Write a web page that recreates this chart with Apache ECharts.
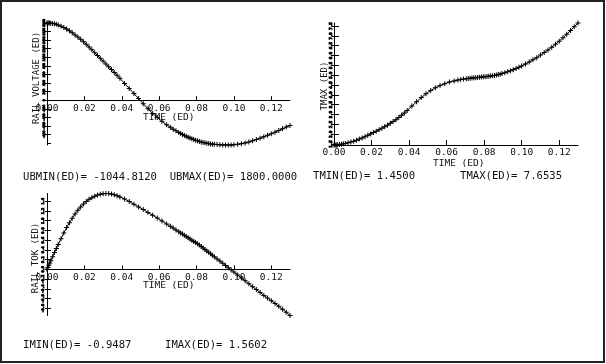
<!DOCTYPE html>
<html>
<head>
<meta charset="utf-8">
<script src="https://cdn.jsdelivr.net/npm/echarts@6/dist/echarts.min.js"></script>
<style>
html,body{margin:0;padding:0;background:#fff;}
#chart{width:606px;height:364px;}
</style>
</head>
<body>
<div id="chart"></div>
<script>
// ---- data ----
const timeValues = [
  0, 0.0005, 0.001, 0.0015, 0.002, 0.003, 0.004, 0.005, 0.006,
  0.0075, 0.009, 0.0105, 0.012, 0.0135, 0.015, 0.0165, 0.018, 0.0195, 0.021, 0.0225,
  0.024, 0.0255, 0.027, 0.0285, 0.030, 0.0315, 0.033, 0.0345, 0.036, 0.0375, 0.039,
  0.0415, 0.044, 0.0465, 0.049, 0.0515, 0.054, 0.0565, 0.059, 0.0615, 0.064, 0.066,
  0.0675, 0.069, 0.0705, 0.0715, 0.0725, 0.0735, 0.0745, 0.0755, 0.0765, 0.0775, 0.0785,
  0.0795, 0.0805, 0.0815, 0.0825, 0.0835, 0.0845, 0.0855, 0.0865, 0.0875, 0.0885, 0.0895,
  0.091, 0.0925, 0.094, 0.0955, 0.097, 0.0985, 0.100, 0.102, 0.104, 0.106, 0.108,
  0.110, 0.112, 0.114, 0.116, 0.118, 0.120, 0.122, 0.124, 0.126, 0.128, 0.130
];
const voltageValues = [
  1800, 1800, 1799, 1798, 1796, 1791, 1783, 1771, 1756,
  1727, 1695, 1658, 1617, 1571, 1523, 1473, 1420, 1365, 1302, 1238,
  1174, 1109, 1043, 977, 911, 845, 779, 713, 647, 580, 510,
  392, 274, 155, 37, -83, -200, -310, -405, -493, -575, -633,
  -675, -715, -753, -777, -800, -822, -843, -863, -882, -900, -917,
  -933, -948, -962, -974, -985, -995, -1004, -1012, -1019, -1025, -1030,
  -1036, -1040, -1043, -1044.5, -1044.812, -1043, -1038, -1028, -1014, -996, -974,
  -948, -918, -886, -853, -819, -782, -745, -707, -668, -628, -588
];
const tmaxValues = [
  1.45, 1.451, 1.453, 1.456, 1.46, 1.47, 1.49, 1.51, 1.53,
  1.56, 1.60, 1.645, 1.695, 1.75, 1.81, 1.875, 1.94, 2.01, 2.08, 2.15,
  2.22, 2.30, 2.38, 2.46, 2.55, 2.64, 2.74, 2.85, 2.96, 3.08, 3.21,
  3.43, 3.65, 3.86, 4.05, 4.22, 4.36, 4.47, 4.57, 4.65, 4.71, 4.75,
  4.78, 4.80, 4.82, 4.83, 4.845, 4.855, 4.865, 4.875, 4.885, 4.895, 4.905,
  4.915, 4.925, 4.935, 4.945, 4.96, 4.975, 4.99, 5.01, 5.03, 5.05, 5.08,
  5.12, 5.17, 5.22, 5.28, 5.34, 5.40, 5.47, 5.57, 5.67, 5.78, 5.89,
  6.02, 6.15, 6.28, 6.42, 6.57, 6.73, 6.90, 7.08, 7.27, 7.46, 7.6535
];
const tokValues = [
  0, 0.04, 0.085, 0.13, 0.175, 0.26, 0.345, 0.43, 0.51,
  0.63, 0.75, 0.86, 0.96, 1.05, 1.14, 1.215, 1.285, 1.345, 1.395, 1.44,
  1.475, 1.505, 1.528, 1.546, 1.556, 1.5602, 1.558, 1.55, 1.535, 1.515, 1.49,
  1.445, 1.395, 1.34, 1.285, 1.23, 1.17, 1.115, 1.055, 0.995, 0.935, 0.885,
  0.85, 0.81, 0.775, 0.75, 0.725, 0.70, 0.675, 0.65, 0.625, 0.60, 0.575,
  0.55, 0.525, 0.50, 0.47, 0.44, 0.41, 0.38, 0.35, 0.32, 0.29, 0.26,
  0.215, 0.17, 0.125, 0.08, 0.035, -0.01, -0.055, -0.115, -0.175, -0.235, -0.295,
  -0.355, -0.415, -0.475, -0.535, -0.59, -0.645, -0.70, -0.76, -0.82, -0.88, -0.9487
];
const timeTicks = [0, 0.02, 0.04, 0.06, 0.08, 0.10, 0.12];
const voltageTicks = [-1000, -800, -600, -400, -200, 0, 200, 400, 600, 800, 1000, 1200, 1400, 1600, 1800];
const tmaxTicks = [1.5, 2.0, 2.5, 3.0, 3.5, 4.0, 4.5, 5.0, 5.5, 6.0, 6.5, 7.0, 7.5];
const tokTicks = [-0.8, -0.6, -0.4, -0.2, 0, 0.2, 0.4, 0.6, 0.8, 1.0, 1.2, 1.4];
const timeMax = 0.13;
const voltageMin = -1044.812, voltageMax = 1800.0;
const tmaxMin = 1.45, tmaxMax = 7.6535;
const tokMin = -0.9487, tokMax = 1.5602;
const statTexts = {
  ub: 'UBMIN(ED)= -1044.8120  UBMAX(ED)= 1800.0000',
  tmin: 'TMIN(ED)= 1.4500',
  tmax: 'TMAX(ED)= 7.6535',
  imin: 'IMIN(ED)= -0.9487',
  imax: 'IMAX(ED)= 1.5602'
};
const timeName = 'TIME (ED)';
const yNames = ['RAIL VOLTAGE (ED)', 'TMAX (ED)', 'RAIL TOK (ED)'];

// ---- chart ----
const MONO = '"DejaVu Sans Mono", "Liberation Mono", monospace';
const INK = '#111';
const plus = 'path://M2,0L3,0L3,2L5,2L5,3L3,3L3,5L2,5L2,3L0,3L0,2L2,2Z';
const GH = 122; // plot height

function pairs(xs, ys) { return xs.map((x, i) => [x, ys[i]]); }
// shift a bottom x axis up to where the y scale reads zero
function zeroShift(mn, mx) { return mn < 0 ? -GH * (0 - mn) / (mx - mn) : 0; }

function xAx(gridIndex, tickLen, margin, off) {
  return {
    type: 'value', gridIndex: gridIndex, min: 0, max: timeMax, position: 'bottom', offset: off,
    axisLine: { show: true, onZero: false, lineStyle: { color: '#000', width: 1 } },
    axisTick: { show: true, inside: true, length: tickLen, customValues: timeTicks, lineStyle: { color: '#000', width: 1 } },
    axisLabel: { show: true, customValues: timeTicks, formatter: v => Number(v).toFixed(2),
      fontFamily: MONO, fontSize: 9.5, color: INK, margin: margin },
    splitLine: { show: false }
  };
}
function yMain(gridIndex, mn, mx, ticks, outLen, dec, fs) {
  return {
    type: 'value', gridIndex: gridIndex, min: mn, max: mx, position: 'left',
    axisLine: { show: true, onZero: false, lineStyle: { color: '#000', width: 1 } },
    axisTick: { show: true, inside: false, length: outLen, customValues: ticks, lineStyle: { color: '#000', width: 1 } },
    axisLabel: { show: true, customValues: ticks, formatter: v => Number(v).toFixed(dec),
      rotate: 90, fontFamily: MONO, fontSize: fs, fontWeight: 'bold', color: '#000',
      textBorderColor: '#000', textBorderWidth: 0.9, margin: 1.5 },
    splitLine: { show: false }
  };
}
function yInner(gridIndex, mn, mx, ticks, inLen) {
  return {
    type: 'value', gridIndex: gridIndex, min: mn, max: mx, position: 'left', offset: 0,
    axisLine: { show: false, onZero: false },
    axisTick: { show: true, inside: true, length: inLen, customValues: ticks, lineStyle: { color: '#000', width: 1 } },
    axisLabel: { show: false },
    splitLine: { show: false }
  };
}
function lineSeries(xi, yi, ys) {
  return {
    type: 'line', xAxisIndex: xi, yAxisIndex: yi, data: pairs(timeValues, ys),
    symbol: plus, symbolSize: 5, showAllSymbol: true, clip: false,
    lineStyle: { color: '#000', width: 1 }, itemStyle: { color: '#000' },
    emphasis: { disabled: true }, animation: false
  };
}
function txt(text, x, y, size, align, rot) {
  return {
    type: 'text', x: x, y: y, rotation: rot || 0, silent: true,
    style: { text: text, fill: INK, font: size + 'px ' + MONO, align: align || 'left', verticalAlign: 'middle' }
  };
}

const chart = echarts.init(document.getElementById('chart'), null, { renderer: 'canvas' });
chart.setOption({
  animation: false,
  backgroundColor: '#fff',
  grid: [
    { left: 47, top: 23, width: 243, height: GH, containLabel: false },
    { left: 334, top: 23, width: 244, height: GH, containLabel: false },
    { left: 47, top: 193.5, width: 243, height: GH, containLabel: false }
  ],
  xAxis: [
    xAx(0, 4, 3, zeroShift(voltageMin, voltageMax)),
    xAx(1, 5, 3, 0),
    xAx(2, 4, 3, zeroShift(tokMin, tokMax))
  ],
  yAxis: [
    yMain(0, voltageMin, voltageMax, voltageTicks, 3, 0, 3.2),
    yInner(0, voltageMin, voltageMax, voltageTicks, 4),
    yMain(1, tmaxMin, tmaxMax, tmaxTicks, 2, 1, 4),
    yInner(1, tmaxMin, tmaxMax, tmaxTicks, 5),
    yMain(2, tokMin, tokMax, tokTicks, 2, 1, 3.6),
    yInner(2, tokMin, tokMax, tokTicks, 4)
  ],
  series: [
    lineSeries(0, 0, voltageValues),
    lineSeries(1, 2, tmaxValues),
    lineSeries(2, 4, tokValues)
  ],
  graphic: [
    { type: 'rect', silent: true, shape: { x: 1, y: 1, width: 603, height: 361 },
      style: { fill: 'none', stroke: '#222', lineWidth: 2 } },
    txt(timeName, 143, 117.5, 9.5, 'left'),
    txt(timeName, 433, 163.5, 9.5, 'left'),
    txt(timeName, 143, 286, 9.5, 'left'),
    txt(yNames[0], 36.5, 78, 9, 'center', Math.PI / 2),
    txt(yNames[1], 325, 86, 9, 'center', Math.PI / 2),
    txt(yNames[2], 36, 258, 9, 'center', Math.PI / 2),
    txt(statTexts.ub, 23, 177, 10.6, 'left'),
    txt(statTexts.tmin, 313, 176.5, 10.6, 'left'),
    txt(statTexts.tmax, 460, 176.5, 10.6, 'left'),
    txt(statTexts.imin, 23, 345, 10.6, 'left'),
    txt(statTexts.imax, 165, 345, 10.6, 'left')
  ]
});
</script>
</body>
</html>
